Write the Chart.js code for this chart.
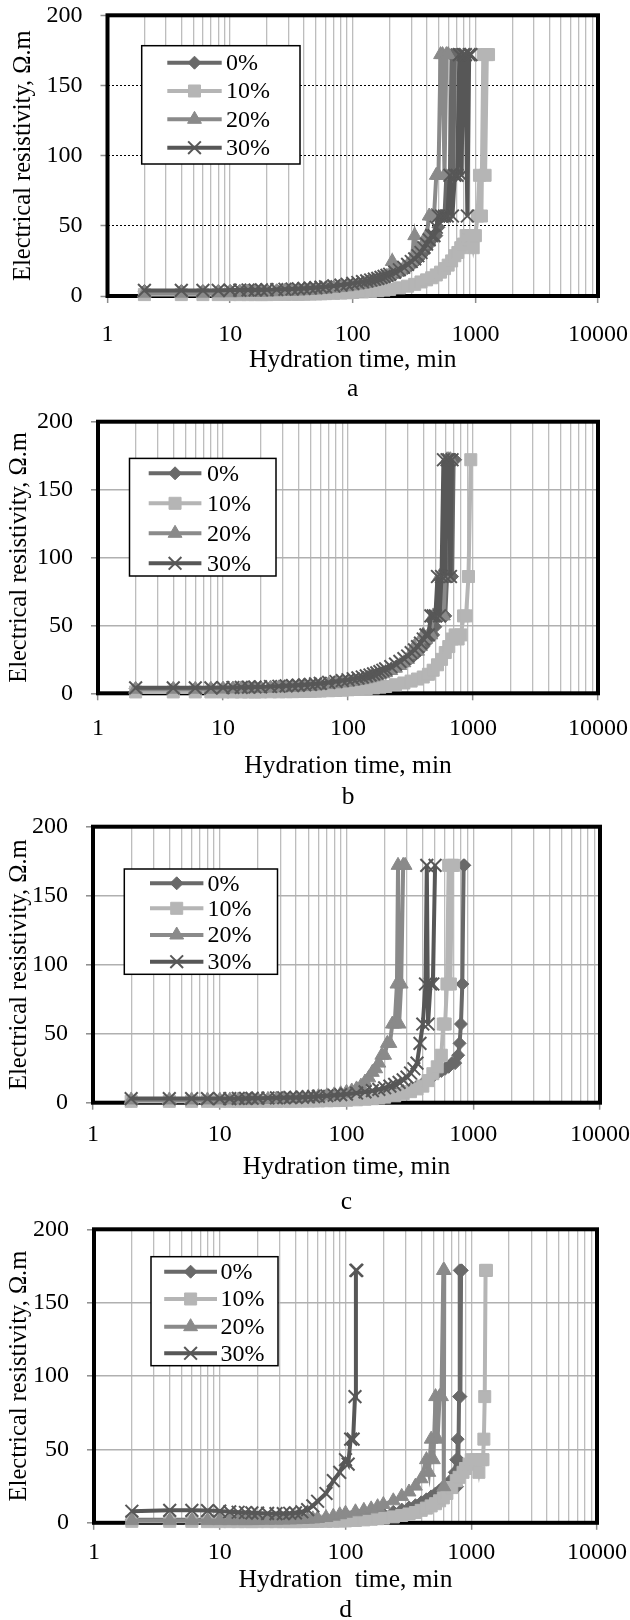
<!DOCTYPE html>
<html lang="en">
<head>
<meta charset="UTF-8">
<title>Electrical resistivity vs hydration time</title>
<style>
  html, body { margin: 0; padding: 0; background: #fff; overflow: hidden; }
  #wrap { position: relative; width: 630px; height: 1620px; }
  canvas { position: absolute; left: 0; }
</style>
</head>
<body>
<div id="wrap">
  <canvas id="chartA" width="630" height="420" style="top:0px"></canvas>
  <canvas id="chartB" width="630" height="420" style="top:400px"></canvas>
  <canvas id="chartC" width="630" height="420" style="top:800px"></canvas>
  <canvas id="chartD" width="630" height="420" style="top:1205px"></canvas>
</div>
<script src="https://cdn.jsdelivr.net/npm/chart.js@4.4.0/dist/chart.umd.min.js"></script>
<script>
// ---- data ----
var seriesLabels = ['0%', '10%', '20%', '30%'];
var xTickLabels = [1, 10, 100, 1000, 10000];
var yTickLabels = [0, 50, 100, 150, 200];

// common early readings (min); each series then has its own later times
var tLow = [2,4,6,8,10,12,14,16,18,20,24,28,32,36,40,45,50,55,60,70,80,90,100];

// values arrays = readings at tLow followed by readings at the series' own later times
// panel a
var a0T = [110,120,130,140,150,160,170,180,190,200,220,240,260,280,300,320,340,360,380,400,420,440,460,480,500,520,540,560,580,600,620,640,660,680,700,720];
var a0R = [3.5,3.5,3.5,3.5,3.6,3.6,3.7,3.7,3.8,3.9,4,4.2,4.4,4.6,4.8,5.1,5.4,5.7,6,6.5,7,7.5,8,
  8.5,9,9.6,10.2,10.8,11.4,12,12.6,13.2,14,15.3,16.7,18.3,20,22,24,26,28.7,31,34.4,37,40,43,43,49,57,57,57,86,57,86,172,86,172,172,172];
var a10T = [120,140,160,180,200,240,280,320,360,400,440,480,520,560,600,640,680,720,760,800,840,880,920,960,1000,1040,1080,1120,1160,1200,1240,1280];
var a10R = [1,1,1,1,1,1,1,1,1,1,1.1,1.1,1.2,1.2,1.3,1.4,1.5,1.6,1.7,1.9,2.1,2.3,2.5,
  2.9,3.3,3.7,4.2,4.7,5.8,7,8.3,10,11.5,13,15,17,19.5,22,25,28.7,31,34.4,37,43,40,43,34.4,43,57,86,57,172,86,172,172];
var a20T = [110,120,130,140,150,160,170,180,190,200,210,220,240,260,280,300,320,340,360,380,400,420,440,460,480,500,520,540,560,580,600];
var a20R = [2,2,2,2.2,2.3,2.4,2.5,2.6,2.7,2.8,3,3.2,3.4,3.6,3.8,4,4.3,4.6,4.9,5.5,6,6.6,7.2,
  7.8,8.4,9,9.7,10.4,11.2,12,13,14,15,24.6,17,18.5,20,22,25,43,30,34.4,37,43,57,57,57,86,86,172,172,86,172,172];
var a30T = [110,120,130,140,150,160,170,180,190,200,220,240,260,280,300,320,340,360,380,400,420,440,460,480,500,530,560,590,620,650,680,710,740,770,800,830,860,890,920];
var a30R = [4,4,4,4,4.2,4.2,4.3,4.3,4.4,4.5,4.6,4.8,5,5.2,5.4,5.7,6,6.3,6.6,7.2,7.8,8.4,9,
  9.6,10.2,10.8,11.4,12,12.6,13.3,14,14.7,15.5,17,18.7,20.5,22.5,24.6,26.5,28.7,31,34.4,37,40,43,43,49,57,57,57,57,86,57,86,86,172,86,172,172,57,172,172];

// panel b
var b0T = [110,120,130,140,150,160,170,180,190,200,220,240,260,280,300,320,340,360,380,400,420,440,460,480,500,520,540,560,580,600,620,640,660,680,700,720];
var b0R = [3.5,3.5,3.5,3.6,3.7,3.8,3.9,4,4.1,4.2,4.4,4.6,4.8,5,5.2,5.5,5.8,6.1,6.4,7,7.6,8.2,8.8,
  9.4,10,10.6,11.2,11.8,12.5,13.2,14,14.8,15.6,17,18.6,20.3,22,24,26,28,30,32.5,34.4,37,40,43,43,49,57,57,57,86,57,86,86,172,86,172,172];
var b10T = [120,140,160,180,200,240,280,320,360,400,440,480,520,560,600,640,680,720,760,800,840,880,920,960];
var b10R = [1,1,1,1,1,1,1,1,1,1,1.1,1.1,1.2,1.2,1.3,1.4,1.5,1.6,1.7,1.9,2.1,2.3,2.6,
  3,3.5,4,4.5,5,6.3,7.6,9,10.5,12,14,17,21,25,30,34.4,40,43,40,43,57,57,86,172];
var b20T = [110,120,130,140,150,160,170,180,190,200,220,240,260,280,300,320,340,360,380,400,420,440,460,480,500,520,540,560,580,600,620,640,660];
var b20R = [3,3,3,3,3.1,3.2,3.3,3.4,3.5,3.6,3.8,4,4.2,4.4,4.6,4.9,5.2,5.5,5.8,6.4,7,7.6,8.2,
  8.8,9.4,10,10.7,11.4,12.1,12.8,13.6,14.4,15.2,16.8,18.5,20.5,22.5,25,28.7,34.4,31,34.4,43,40,43,43,57,57,57,86,86,57,86,172,172,172];
var b30T = [110,120,130,140,150,160,170,180,190,200,220,240,260,280,300,320,340,360,380,400,420,440,460,480,500,520,540,560,580,600,620,640,660,680];
var b30R = [4,4,4,4,4.2,4.3,4.4,4.5,4.6,4.7,5,5.2,5.5,5.7,6,6.3,6.6,7,7.3,8,8.7,9.4,10,
  10.7,11.4,12,12.8,13.5,14.3,15,16,17,18,19.7,21.5,23.5,25.5,27.5,30,32,34.4,37,40,43,43,57,57,57,86,57,86,172,86,172,172,86,172];

// panel c
var c0T = [120,140,160,180,200,240,280,320,360,400,440,480,520,560,600,640,680,720,760,780,800,820,840,850];
var c0R = [1.5,1.5,1.5,1.5,1.5,1.5,1.5,1.5,1.5,1.5,1.6,1.6,1.7,1.7,1.8,1.9,2,2.1,2.2,2.4,2.6,2.8,3,
  3.5,4,4.6,5.2,5.8,7,8.5,10,12,14,16.5,19,21.5,23,24.6,26,28.7,28.7,34.4,43,57,86,172,172];
var c10T = [120,140,160,180,200,240,280,320,360,400,440,480,520,560,580,600,620,640,660,680,700];
var c10R = [1,1,1,1,1,1,1,1,1,1,1,1,1.1,1.1,1.1,1.2,1.2,1.3,1.3,1.4,1.5,1.6,1.8,
  2.1,2.5,2.9,3.4,4,5,6.5,8,10,12,16,21,26,34.4,57,57,86,172,86,172,172];
var c20T = [110,120,130,140,150,160,170,180,190,200,210,220,230,240,250,255,260,270,280,290];
var c20R = [2,2,2,2,2,2,2,2,2.1,2.2,2.4,2.6,2.8,3,3.2,3.5,3.8,4.1,4.4,5,5.7,6.5,7.5,
  8.5,10,12,15,18,22,24.6,28.7,34.4,34.4,43,43,57,57,86,172,57,86,172,172];
var c30T = [120,140,160,180,200,220,240,260,280,300,320,340,360,380,400,420,430,440,460,480,500];
var c30R = [3,3,3,3,3,3,3.1,3.1,3.2,3.3,3.4,3.5,3.6,3.7,3.8,4,4.2,4.4,4.6,5,5.4,5.8,6.2,
  7,7.8,8.7,9.7,10.8,12,13.3,14.7,16.5,18.5,21.5,24.6,28.7,43,57,86,172,57,86,86,172];

// panel d
var d0T = [120,140,160,180,200,240,280,320,360,400,440,480,520,560,600,640,680,720,740,760,770,780,790,800,810,820,830,840];
var d0R = [2,2,2,2,2,2,2,2,2,2,2,2,2,2,2,2,2,2.1,2.2,2.4,2.6,2.8,3,
  3.5,4,4.6,5.2,6,7.5,9,10.5,12,14,16,18,20,22,24.6,26,28.7,28.7,34.4,43,24.6,57,43,86,172,86,172,172];
var d10T = [120,140,160,180,200,240,280,320,360,400,440,480,520,560,600,640,700,760,800,860,900,960,1000,1050,1100,1150,1200,1240,1260,1280,1300,1320];
var d10R = [1,1,1,0.8,0.8,0.8,0.8,0.8,0.8,0.8,0.8,0.8,0.8,0.8,0.8,0.8,0.9,0.9,1,1,1.1,1.2,1.3,
  1.6,2,2.4,2.8,3.2,4,5,6,7,8.5,10,11.5,13,15,17,20,24,28.7,31,34.4,37,40,43,40,43,34.4,43,43,57,86,172,172];
var d20T = [120,140,160,180,200,240,280,320,360,400,440,460,480,500,520,540,560,580,600,605,610];
var d20R = [1.5,1.5,1.5,1.5,1.5,1.5,1.5,1.5,1.5,1.6,1.7,1.8,1.9,2,2.1,2.3,2.5,2.7,3,3.6,4.5,5.5,6.5,
  7.5,8.5,9.5,11,12.5,15,18,21,25,30,43,34.4,57,43,86,57,86,86,172,24.6,172];
var d30T = [105,110,115,119,121,123];
var d30R = [7.9,8.5,8.5,8.3,8,7.5,7.2,7,6.8,6.6,6.4,6.3,6.3,6.5,6.8,7.5,9,11.5,14.7,20,28.7,34.4,43,
  40,57,57,86,172,172];

// ---- styles ----
var FONT = "'Liberation Serif', 'Times New Roman', serif";
Chart.defaults.font.family = FONT;
Chart.defaults.color = '#000';

var seriesStyles = [
  { color: '#696969', shape: 'rectRot', r: 6.5, bw: 1, order: 3 },
  { color: '#b5b5b5', shape: 'rect', r: 8.5, bw: 1, order: 2 },
  { color: '#8a8a8a', shape: 'triangle', r: 8, bw: 1, order: 1 },
  { color: '#575757', shape: 'crossRot', r: 9, bw: 2, order: 0 }
];

function toPoints(tail, values) {
  var t = tLow.concat(tail);
  return t.map(function (x, i) { return { x: x, y: values[i] }; });
}

// plot frame + boxed legend
var framePlugin = {
  id: 'frame',
  beforeDatasetsDraw: function (chart) {
    var a = chart.chartArea, ctx = chart.ctx;
    ctx.save();
    ctx.strokeStyle = '#000';
    ctx.lineWidth = 4;
    ctx.strokeRect(a.left, a.top, a.right - a.left, a.bottom - a.top);
    ctx.restore();
  },
  afterDraw: function (chart) {
    var lg = chart.options.plugins.frame.legend;
    var ctx = chart.ctx;
    ctx.save();
    ctx.fillStyle = '#fff';
    ctx.fillRect(lg.x1, lg.y1, lg.x2 - lg.x1, lg.y2 - lg.y1);
    ctx.strokeStyle = '#000';
    ctx.lineWidth = 1.5;
    ctx.strokeRect(lg.x1, lg.y1, lg.x2 - lg.x1, lg.y2 - lg.y1);
    seriesLabels.forEach(function (lab, i) {
      var st = seriesStyles[i], y = lg.rows[i];
      ctx.strokeStyle = st.color;
      ctx.lineWidth = 4;
      ctx.beginPath();
      ctx.moveTo(lg.lx1, y);
      ctx.lineTo(lg.lx2, y);
      ctx.stroke();
      ctx.fillStyle = st.color;
      ctx.lineWidth = st.bw;
      Chart.helpers.drawPoint(ctx, { pointStyle: st.shape, radius: st.r, rotation: 0, borderWidth: st.bw },
        (lg.lx1 + lg.lx2) / 2, y);
      ctx.fillStyle = '#000';
      ctx.font = '24px ' + FONT;
      ctx.textAlign = 'left';
      ctx.textBaseline = 'middle';
      ctx.fillText(lab, lg.tx, y + 1);
    });
    ctx.restore();
  }
};

function makePanel(id, p, seriesPoints) {
  var H = 420;
  var datasets = seriesPoints.map(function (pts, i) {
    var st = seriesStyles[i];
    return {
      label: seriesLabels[i],
      data: pts,
      borderColor: st.color,
      backgroundColor: st.color,
      borderWidth: 4,
      pointStyle: st.shape,
      pointRadius: st.r,
      pointBorderWidth: st.bw,
      pointBackgroundColor: st.color,
      pointBorderColor: st.color,
      tension: 0,
      clip: false,
      order: st.order
    };
  });

  new Chart(document.getElementById(id), {
    type: 'line',
    data: { datasets: datasets },
    plugins: [framePlugin],
    options: {
      responsive: false,
      animation: false,
      events: [],
      layout: { padding: { top: p.t, right: 630 - p.r, bottom: 0, left: 0 } },
      plugins: {
        legend: { display: false },
        tooltip: { enabled: false },
        frame: { legend: p.legend }
      },
      scales: {
        x: {
          type: 'logarithmic',
          min: 1,
          max: 10000,
          afterBuildTicks: function (scale) {
            var ticks = [];
            for (var d = 1; d < 10000; d *= 10) {
              for (var m = 1; m < 10; m++) ticks.push({ value: m * d });
            }
            ticks.push({ value: 10000 });
            scale.ticks = ticks;
          },
          afterFit: function (scale) {
            scale.height = H - p.b;
            scale.paddingLeft = 0;
            scale.paddingRight = 0;
          },
          grid: {
            color: '#bdbdbd',
            lineWidth: 1.3,
            tickLength: 7,
            tickWidth: 1.5,
            tickColor: function (c) {
              return c.tick && xTickLabels.indexOf(c.tick.value) >= 0 ? '#8c8c8c' : 'rgba(0,0,0,0)';
            }
          },
          border: { display: false },
          ticks: {
            autoSkip: false,
            maxRotation: 0,
            padding: p.xPad,
            font: { size: 24 },
            callback: function (v) { return xTickLabels.indexOf(v) >= 0 ? String(v) : ''; }
          },
          title: {
            display: true,
            text: [p.xTitle, p.caption],
            font: { size: 25.5, lineHeight: p.xLH / 25.5 },
            padding: { top: 0, bottom: p.xTB }
          }
        },
        y: {
          min: 0,
          max: 200,
          afterBuildTicks: function (scale) {
            scale.ticks = yTickLabels.map(function (v) { return { value: v }; });
          },
          afterFit: function (scale) {
            scale.width = p.l;
            scale.paddingTop = 0;
            scale.paddingBottom = 0;
          },
          grid: {
            color: p.dotted ? '#000' : '#b0b0b0',
            lineWidth: p.dotted ? 1 : 1.6,
            tickLength: 7,
            tickWidth: 1.5,
            tickColor: '#8c8c8c',
            tickBorderDash: []
          },
          border: { display: false, dash: p.dotted ? [2, 2] : [] },
          ticks: { padding: 18, font: { size: 24 } },
          title: {
            display: true,
            text: 'Electrical resistivity, \u03A9.m',
            font: { size: 24.5 },
            padding: { top: p.yTX - 14.7, bottom: 0 }
          }
        }
      }
    }
  });
}

makePanel('chartA', {
  l: 107.5, r: 598, t: 15.3, b: 296, xPad: 17, xLH: 29, xTB: 16, yTX: 24, dotted: true,
  xTitle: 'Hydration time, min', caption: 'a',
  legend: { x1: 141.7, y1: 45.7, x2: 300, y2: 164, lx1: 167.3, lx2: 221.7, tx: 226, rows: [62.7, 91, 119.3, 147.7] }
}, [toPoints(a0T, a0R), toPoints(a10T, a10R), toPoints(a20T, a20R), toPoints(a30T, a30R)]);

makePanel('chartB', {
  l: 98, r: 598, t: 21.7, b: 293.3, xPad: 14, xLH: 31, xTB: 7.5, yTX: 20, dotted: false,
  xTitle: 'Hydration time, min', caption: 'b',
  legend: { x1: 129.5, y1: 58.4, x2: 276, y2: 176, lx1: 148.7, lx2: 201.4, tx: 207, rows: [73.3, 103.3, 133.3, 163.3] }
}, [toPoints(b0T, b0R), toPoints(b10T, b10R), toPoints(b20T, b20R), toPoints(b30T, b30R)]);

makePanel('chartC', {
  l: 93, r: 600, t: 26.7, b: 302.7, xPad: 10.5, xLH: 35, xTB: 0.5, yTX: 20, dotted: false,
  xTitle: 'Hydration time, min', caption: 'c',
  legend: { x1: 124.3, y1: 69, x2: 277.5, y2: 174.3, lx1: 150, lx2: 203.4, tx: 207.4, rows: [83.3, 108.3, 135, 161.7] }
}, [toPoints(c0T, c0R), toPoints(c10T, c10R), toPoints(c20T, c20R), toPoints(c30T, c30R)]);

makePanel('chartD', {
  l: 94, r: 597, t: 24.3, b: 317.8, xPad: 8.4, xLH: 30, xTB: 0, yTX: 20, dotted: false,
  xTitle: 'Hydration  time, min', caption: 'd',
  legend: { x1: 151, y1: 51.7, x2: 278, y2: 160.7, lx1: 164.2, lx2: 217, tx: 220.4, rows: [66.7, 94, 121.7, 148.3] }
}, [toPoints(d0T, d0R), toPoints(d10T, d10R), toPoints(d20T, d20R), toPoints(d30T, d30R)]);
</script>
</body>
</html>
